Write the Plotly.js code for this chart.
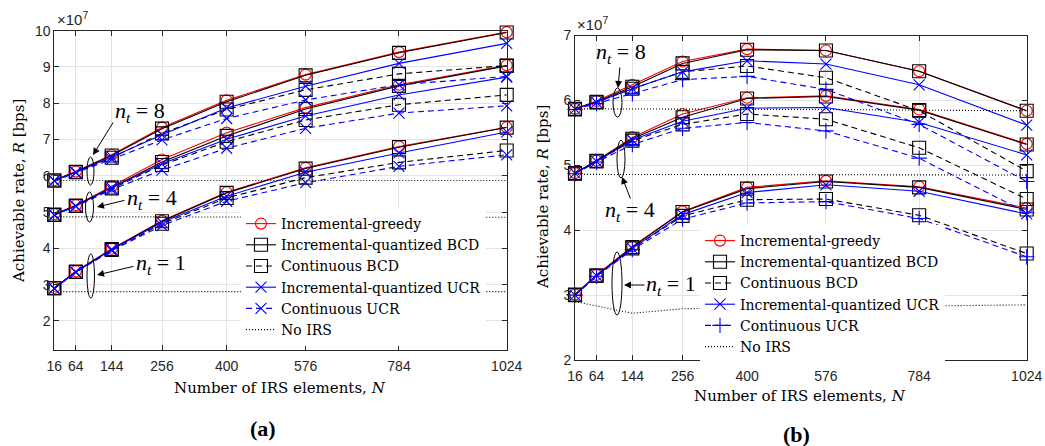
<!DOCTYPE html>
<html>
<head>
<meta charset="utf-8">
<script src="https://cdn.plot.ly/plotly-3.0.1.min.js"></script>
<style>html,body{margin:0;padding:0;background:#fff;}#chart{width:1045px;height:446px;}</style>
</head>
<body>
<div id="chart"></div>
<script>
// Number of IRS elements
const N = [16, 64, 144, 256, 400, 576, 784, 1024];
const xTickLabels = ['16', '64', '144', '256', '400', '576', '784', '1024'];
// Achievable rate in units of 1e7 bps (axis shows ×10^7)
const yTicksA = [2, 3, 4, 5, 6, 7, 8, 9, 10];
const yTicksB = [2, 3, 4, 5, 6, 7];

const seriesNames = ['Incremental-greedy', 'Incremental-quantized BCD', 'Continuous BCD',
                     'Incremental-quantized UCR', 'Continuous UCR', 'No IRS'];

// ---- Panel (a) ----
const a_nt8_greedy  = [5.88, 6.12, 6.58, 7.33, 8.08, 8.79, 9.41, 9.96];
const a_nt8_incBCD  = [5.87, 6.11, 6.56, 7.30, 8.04, 8.77, 9.39, 9.95];
const a_nt8_contBCD = [5.87, 6.10, 6.50, 7.17, 7.83, 8.37, 8.81, 9.04];
const a_nt8_incUCR  = [5.87, 6.10, 6.52, 7.13, 7.87, 8.47, 9.10, 9.65];
const a_nt8_contUCR = [5.86, 6.08, 6.46, 6.99, 7.58, 8.09, 8.51, 8.74];
const a_nt8_noIRS   = [5.87, 5.87, 5.86, 5.87, 5.88, 5.87, 5.87, 5.87];

const a_nt4_greedy  = [4.94, 5.19, 5.71, 6.45, 7.19, 7.88, 8.51, 9.05];
const a_nt4_incBCD  = [4.93, 5.18, 5.68, 6.38, 7.10, 7.84, 8.48, 9.03];
const a_nt4_contBCD = [4.92, 5.17, 5.65, 6.30, 6.94, 7.54, 7.96, 8.23];
const a_nt4_incUCR  = [4.93, 5.17, 5.67, 6.33, 7.01, 7.65, 8.23, 8.72];
const a_nt4_contUCR = [4.92, 5.16, 5.62, 6.16, 6.76, 7.31, 7.73, 7.93];
const a_nt4_noIRS   = [4.87, 4.87, 4.86, 4.87, 4.87, 4.86, 4.87, 4.86];

const a_nt1_greedy  = [2.91, 3.37, 3.99, 4.76, 5.55, 6.22, 6.81, 7.34];
const a_nt1_incBCD  = [2.90, 3.36, 3.98, 4.75, 5.53, 6.20, 6.79, 7.33];
const a_nt1_contBCD = [2.90, 3.35, 3.96, 4.68, 5.39, 5.95, 6.37, 6.70];
const a_nt1_incUCR  = [2.90, 3.35, 3.97, 4.72, 5.44, 6.10, 6.63, 7.21];
const a_nt1_contUCR = [2.89, 3.34, 3.94, 4.63, 5.30, 5.81, 6.26, 6.58];
const a_nt1_noIRS   = [2.81, 2.81, 2.80, 2.80, 2.81, 2.80, 2.81, 2.81];

// ---- Panel (b) ----
const b_nt8_greedy  = [5.87, 5.99, 6.24, 6.60, 6.79, 6.77, 6.45, 5.84];
const b_nt8_incBCD  = [5.87, 5.98, 6.21, 6.57, 6.78, 6.77, 6.45, 5.84];
const b_nt8_contBCD = [5.86, 5.97, 6.18, 6.44, 6.53, 6.35, 5.84, 4.91];
const b_nt8_incUCR  = [5.87, 5.97, 6.18, 6.44, 6.61, 6.56, 6.24, 5.62];
const b_nt8_contUCR = [5.86, 5.95, 6.10, 6.32, 6.37, 6.17, 5.63, 4.75];
const b_nt8_noIRS   = [5.87, 5.87, 5.86, 5.86, 5.86, 5.86, 5.85, 5.84];

const b_nt4_greedy  = [4.88, 5.07, 5.43, 5.79, 6.04, 6.07, 5.86, 5.33];
const b_nt4_incBCD  = [4.88, 5.07, 5.41, 5.74, 6.03, 6.06, 5.85, 5.32];
const b_nt4_contBCD = [4.87, 5.06, 5.38, 5.63, 5.79, 5.71, 5.27, 4.48];
const b_nt4_incUCR  = [4.88, 5.06, 5.39, 5.68, 5.88, 5.89, 5.66, 5.16];
const b_nt4_contUCR = [4.87, 5.05, 5.32, 5.57, 5.66, 5.53, 5.11, 4.27];
const b_nt4_noIRS   = [4.86, 4.86, 4.86, 4.85, 4.86, 4.85, 4.85, 4.85];

const b_nt1_greedy  = [3.01, 3.31, 3.75, 4.29, 4.66, 4.76, 4.67, 4.34];
const b_nt1_incBCD  = [3.01, 3.30, 3.74, 4.28, 4.64, 4.75, 4.66, 4.32];
const b_nt1_contBCD = [3.00, 3.30, 3.72, 4.22, 4.47, 4.48, 4.23, 3.64];
const b_nt1_incUCR  = [3.00, 3.30, 3.72, 4.24, 4.58, 4.70, 4.60, 4.25];
const b_nt1_contUCR = [3.00, 3.29, 3.70, 4.17, 4.42, 4.44, 4.18, 3.59];
const b_nt1_noIRS   = [2.90, 2.83, 2.72, 2.79, 2.80, 2.81, 2.83, 2.85];

const panelA = [
  [a_nt8_greedy, a_nt4_greedy, a_nt1_greedy],
  [a_nt8_incBCD, a_nt4_incBCD, a_nt1_incBCD],
  [a_nt8_contBCD, a_nt4_contBCD, a_nt1_contBCD],
  [a_nt8_incUCR, a_nt4_incUCR, a_nt1_incUCR],
  [a_nt8_contUCR, a_nt4_contUCR, a_nt1_contUCR],
  [a_nt8_noIRS, a_nt4_noIRS, a_nt1_noIRS]
];
const panelB = [
  [b_nt8_greedy, b_nt4_greedy, b_nt1_greedy],
  [b_nt8_incBCD, b_nt4_incBCD, b_nt1_incBCD],
  [b_nt8_contBCD, b_nt4_contBCD, b_nt1_contBCD],
  [b_nt8_incUCR, b_nt4_incUCR, b_nt1_incUCR],
  [b_nt8_contUCR, b_nt4_contUCR, b_nt1_contUCR],
  [b_nt8_noIRS, b_nt4_noIRS, b_nt1_noIRS]
];

// ---- styles ----
const W = 1045, H = 446;
const px = x => x / W;
const py = y => 1 - y / H;
const DASH = '6px,4px';
function styleFor(k, panel) {
  const s = [
    {color: '#ff0000', dash: 'solid', symbol: 'circle-open', size: 11},
    {color: '#000000', dash: 'solid', symbol: 'square-open', size: 13},
    {color: '#000000', dash: DASH, symbol: 'square-open', size: 13},
    {color: '#0000ff', dash: 'solid', symbol: 'x-thin-open', size: 11},
    {color: '#0000ff', dash: DASH, symbol: panel === 'a' ? 'x-thin-open' : 'cross-thin-open', size: 11},
    {color: '#000000', dash: '1px,2px', symbol: null, size: 0}
  ];
  return s[k];
}

const traces = [];
function addPanel(data, panel, xa, ya, legendId) {
  data.forEach((groups, k) => {
    const st = styleFor(k, panel);
    groups.forEach((vals, g) => {
      const t = {
        x: N, y: vals, xaxis: xa, yaxis: ya, type: 'scatter',
        name: seriesNames[k], legend: legendId, showlegend: g === 0,
        legendgroup: panel + k, cliponaxis: false,
        line: {color: st.color, width: 1.1, dash: st.dash}
      };
      if (st.symbol) {
        t.mode = 'lines+markers';
        t.marker = {symbol: st.symbol, size: st.size, color: st.color,
                    line: {color: st.color, width: 1.1}};
      } else {
        t.mode = 'lines';
      }
      traces.push(t);
    });
  });
}
addPanel(panelA, 'a', 'x', 'y', 'legend');
addPanel(panelB, 'b', 'x2', 'y2', 'legend2');

const sans = 'Liberation Sans, Arial, sans-serif';
const serif = 'DejaVu Serif, serif';
const mathSerif = 'Liberation Serif, serif';

const axisCommon = {
  showgrid: true, gridcolor: '#e3e3e3', gridwidth: 1,
  ticks: 'inside', ticklen: 5, tickcolor: '#262626', tickwidth: 1,
  showline: true, linecolor: '#262626', linewidth: 1, mirror: 'ticks',
  zeroline: false, fixedrange: true,
  tickfont: {family: sans, size: 14, color: '#262626'}
};
const xAx = Object.assign({}, axisCommon, {range: [16, 1024], tickvals: N, ticktext: xTickLabels, ticklabelstandoff: 3});
const legendCommon = {xanchor: 'left', yanchor: 'top', bgcolor: '#ffffff',
  borderwidth: 0, tracegroupgap: 0, itemwidth: 30,
  font: {family: serif, size: 14, color: '#000'}};
const layout = {
  width: W, height: H,
  margin: {l: 0, r: 0, t: 0, b: 0},
  paper_bgcolor: '#ffffff', plot_bgcolor: '#ffffff',
  showlegend: true,
  xaxis: Object.assign({}, xAx, {domain: [px(54.3), px(506.7)], anchor: 'y'}),
  yaxis: Object.assign({}, axisCommon, {domain: [py(350), py(30.7)], range: [1.2, 10],
    tickvals: yTicksA, ticktext: yTicksA.map(String), anchor: 'x'}),
  xaxis2: Object.assign({}, xAx, {domain: [px(575), px(1026.7)], anchor: 'y2'}),
  yaxis2: Object.assign({}, axisCommon, {domain: [py(360), py(35.5)], range: [2, 7],
    tickvals: yTicksB, ticktext: yTicksB.map(String), anchor: 'x2'}),
  legend: Object.assign({x: px(241), y: py(208)}, legendCommon),
  legend2: Object.assign({x: px(700), y: py(225)}, legendCommon),
  shapes: [],
  annotations: []
};

function txt(x, y, text, size, opts) {
  layout.annotations.push(Object.assign({
    xref: 'paper', yref: 'paper', x: px(x), y: py(y), text: text, showarrow: false,
    xanchor: 'center', yanchor: 'middle',
    font: {family: serif, size: size, color: '#000'}
  }, opts || {}));
}
function arrow(tx, ty, hx, hy) {
  layout.annotations.push({
    xref: 'paper', yref: 'paper', x: px(hx), y: py(hy), ax: tx - hx, ay: ty - hy,
    axref: 'pixel', ayref: 'pixel', text: '', showarrow: true,
    arrowhead: 2, arrowsize: 1.4, arrowwidth: 1, arrowcolor: '#000'
  });
}
function ellipse(x0, x1, y0, y1) {
  layout.shapes.push({type: 'circle', xref: 'paper', yref: 'paper',
    x0: px(x0), x1: px(x1), y0: py(y1), y1: py(y0), line: {color: '#000', width: 1}});
}
const nt = v => '<i>n</i><sub><i>t</i></sub> = ' + v;
const mathFont = {family: mathSerif, size: 22, color: '#000'};

// exponent labels
txt(55, 30, '×10<sup>7</sup>', 15, {xanchor: 'left', yanchor: 'bottom',
  font: {family: sans, size: 15, color: '#262626'}});
txt(575, 35, '×10<sup>7</sup>', 15, {xanchor: 'left', yanchor: 'bottom',
  font: {family: sans, size: 15, color: '#262626'}});

// panel (a) annotations
txt(140, 112, nt(8), 22, {font: mathFont});
arrow(114, 121, 93, 155);
ellipse(87, 94, 157, 185);
txt(152, 199, nt(4), 22, {font: mathFont});
arrow(126, 200, 97, 207);
ellipse(85.5, 93.5, 192, 222);
txt(161, 264, nt(1), 22, {font: mathFont});
arrow(135, 266, 97, 275);
ellipse(87, 94.5, 254, 298);

// panel (b) annotations
txt(621, 53, nt(8), 22, {font: mathFont});
arrow(620, 66, 618, 88);
ellipse(613, 622, 88, 117);
txt(630, 211, nt(4), 22, {font: mathFont});
arrow(631, 200, 622, 177);
ellipse(617, 625, 140, 178);
txt(671, 285, nt(1), 22, {font: mathFont});
arrow(646, 285, 624, 285);
ellipse(612, 622, 252, 315);

// axis titles
txt(280, 388, 'Number of IRS elements, <i>N</i>', 15);
txt(800, 396, 'Number of IRS elements, <i>N</i>', 15);
txt(19, 191, 'Achievable rate, <i>R</i> [bps]', 15, {textangle: -90});
txt(543, 197, 'Achievable rate, <i>R</i> [bps]', 15, {textangle: -90});

// panel labels
txt(263, 428, '<b>(a)</b>', 22, {font: {family: mathSerif, size: 22, color: '#000'}});
txt(796, 434, '<b>(b)</b>', 22, {font: {family: mathSerif, size: 22, color: '#000'}});

Plotly.newPlot('chart', traces, layout, {staticPlot: true, displayModeBar: false});
</script>
</body>
</html>
